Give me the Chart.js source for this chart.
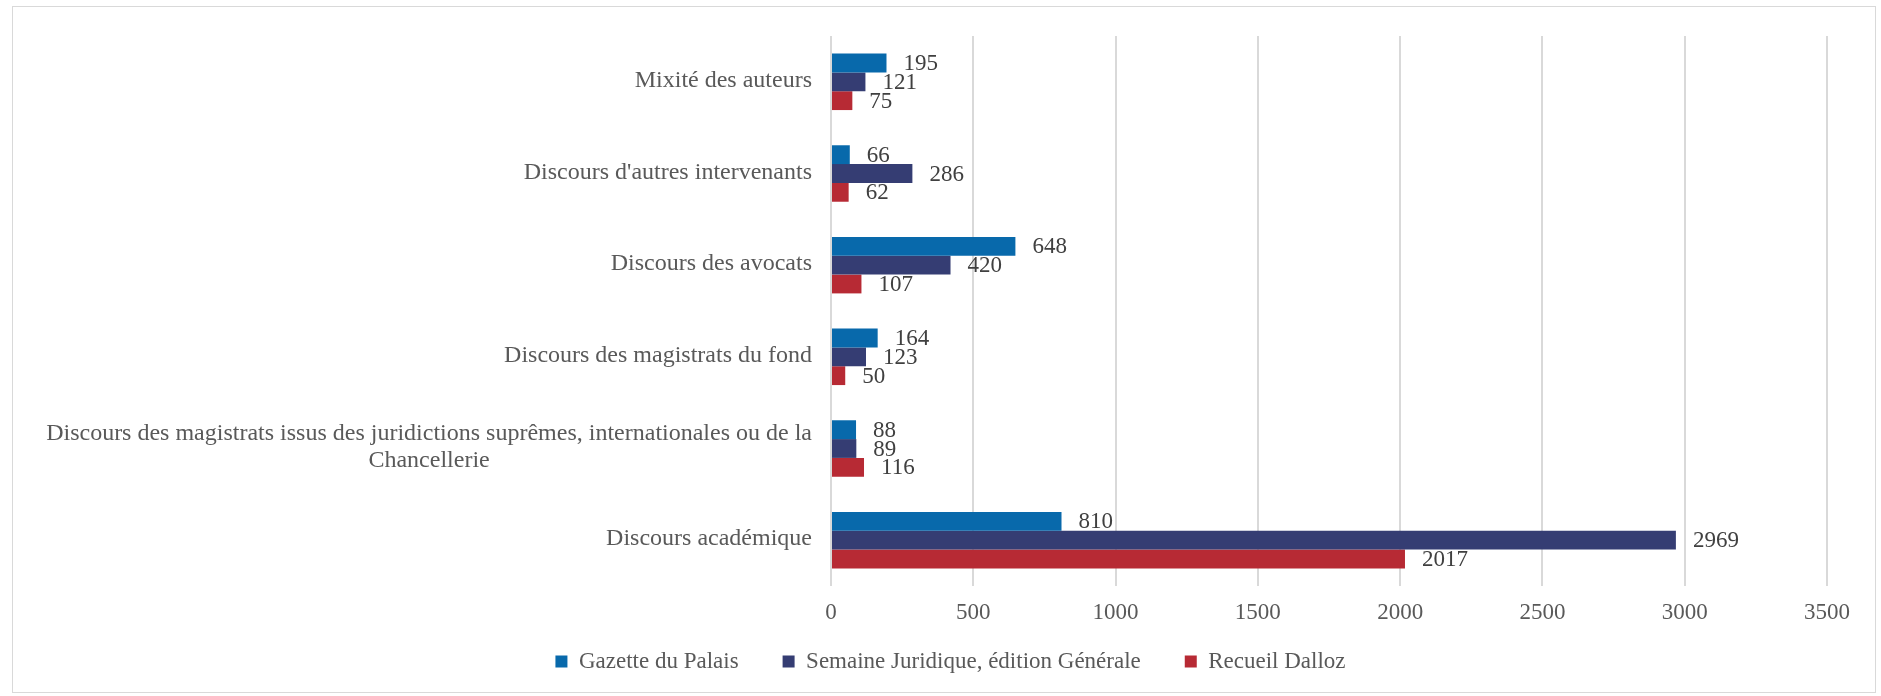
<!DOCTYPE html>
<html><head><meta charset="utf-8">
<script src="https://cdn.jsdelivr.net/npm/chart.js@4/dist/chart.umd.min.js"></script>
<style>
html,body{margin:0;padding:0;background:#fff;overflow:hidden;}
#frame{position:absolute;left:12px;top:6px;width:1864px;height:687px;border:1px solid #d9d9d9;box-sizing:border-box;}
#wrap{position:absolute;left:0;top:0;width:1881px;height:696px;}
</style></head><body>
<div id="frame"></div>
<div id="wrap"><canvas id="c" width="1881" height="696"></canvas></div>
<script>
const categories = [
  "Mixité des auteurs",
  "Discours d'autres intervenants",
  "Discours des avocats",
  "Discours des magistrats du fond",
  ["Discours des magistrats issus des juridictions suprêmes, internationales ou de la", "Chancellerie"],
  "Discours académique"
];
const seriesNames = ["Gazette du Palais", "Semaine Juridique, édition Générale", "Recueil Dalloz"];
const gazette = [195, 66, 648, 164, 88, 810];
const semaine = [121, 286, 420, 123, 89, 2969];
const dalloz = [75, 62, 107, 50, 116, 2017];
const xTicks = [0, 500, 1000, 1500, 2000, 2500, 3000, 3500];

const FONT = "'Liberation Serif', 'Times New Roman', serif";
const colors = ["#0869ab", "#353d73", "#b72a34"];

const catLabels = {
  id: 'catLabels',
  afterDraw(chart) {
    const ctx = chart.ctx, y = chart.scales.y, area = chart.chartArea;
    ctx.save();
    ctx.font = "24px " + FONT;
    ctx.fillStyle = "#595959";
    ctx.textBaseline = "middle";
    ctx.textAlign = "center";
    const right = area.left - 19;
    categories.forEach((lab, i) => {
      const lines = Array.isArray(lab) ? lab : [lab];
      const maxW = Math.max(...lines.map(l => ctx.measureText(l).width));
      const cy = y.getPixelForTick(i);
      const lh = 27;
      lines.forEach((l, k) => {
        ctx.fillText(l, right - maxW / 2, cy - (lines.length - 1) * lh / 2 + k * lh - 1);
      });
    });
    ctx.restore();
  }
};

const valueLabels = {
  id: 'valueLabels',
  afterDatasetsDraw(chart) {
    const ctx = chart.ctx;
    ctx.save();
    ctx.font = "23px " + FONT;
    ctx.fillStyle = "#404040";
    ctx.textBaseline = "middle";
    ctx.textAlign = "left";
    chart.data.datasets.forEach((ds, di) => {
      const meta = chart.getDatasetMeta(di);
      meta.data.forEach((el, i) => {
        ctx.fillText(String(ds.data[i]), el.x + 17, el.y + 1);
      });
    });
    ctx.restore();
  }
};

const legendShift = {
  id: 'legendShift',
  afterLayout(chart) {
    const lg = chart.legend;
    if (lg) { lg.top -= 22; lg.height += 22; }
  }
};

new Chart(document.getElementById('c'), {
  type: 'bar',
  data: {
    labels: categories,
    datasets: [
      { label: seriesNames[0], data: gazette, backgroundColor: colors[0] },
      { label: seriesNames[1], data: semaine, backgroundColor: colors[1] },
      { label: seriesNames[2], data: dalloz, backgroundColor: colors[2] }
    ]
  },
  options: {
    indexAxis: 'y',
    responsive: false,
    animation: false,
    devicePixelRatio: 1,
    layout: { padding: { left: 74, right: 54, top: 36, bottom: 13 } },
    datasets: { bar: { categoryPercentage: 0.616, barPercentage: 1.0, borderWidth: 0 } },
    scales: {
      x: {
        min: 0, max: 3500,
        afterBuildTicks(scale) { scale.ticks = xTicks.map(v => ({ value: v })); },
        grid: { color: "#d9d9d9", lineWidth: 2, drawTicks: false },
        border: { display: false },
        ticks: { color: "#595959", font: { family: FONT, size: 23 }, padding: 13,
                 callback: (v) => String(v) },
        afterFit(scale) { scale.height = 42; }
      },
      y: {
        grid: { display: false },
        border: { display: false },
        ticks: { display: false },
        afterFit(scale) { scale.width = 831 - 74; }
      }
    },
    plugins: {
      legend: {
        position: 'bottom',
        maxHeight: 55,
        labels: {
          color: "#595959",
          font: { family: FONT, size: 23 },
          boxWidth: 12, boxHeight: 12,
          padding: 44
        }
      },
      tooltip: { enabled: false }
    }
  },
  plugins: [catLabels, valueLabels, legendShift]
});
</script>
</body></html>
